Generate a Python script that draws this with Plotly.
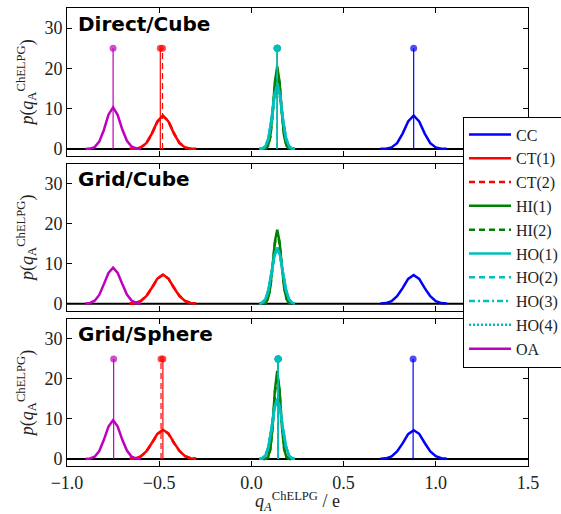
import plotly.graph_objects as go
from plotly.subplots import make_subplots

# ---------------- data ----------------
PANELS = ["Direct/Cube", "Grid/Cube", "Grid/Sphere"]
NAMES = ["CC", "CT(1)", "CT(2)", "HI(1)", "HI(2)", "HO(1)", "HO(2)", "HO(3)", "HO(4)", "OA"]
GROUP = ["CC", "CT", "CT", "HI", "HI", "HO", "HO", "HO", "HO", "OA"]
COLORS = ["#0000ff", "#ff0000", "#ff0000", "#008000", "#008000",
          "#00bfbf", "#00bfbf", "#00bfbf", "#00bfbf", "#bf00bf"]
DASHES = ["solid", "solid", "6px,4px", "solid", "6px,4px",
          "solid", "6px,4px", "6px,3px,2px,3px", "2px,2px", "solid"]

# x grids (charge / e)
OA_X = [-0.90, -0.875, -0.85, -0.825, -0.80, -0.775, -0.75, -0.725, -0.70, -0.675, -0.65, -0.625, -0.60]
CT_X = [-0.66, -0.63, -0.60, -0.57, -0.54, -0.51, -0.48, -0.45, -0.42, -0.39, -0.36, -0.33, -0.30]
HI_X = [0.065, 0.0775, 0.09, 0.1025, 0.115, 0.1275, 0.14, 0.1525, 0.165, 0.1775, 0.19, 0.2025, 0.215]
HO_X = [0.044, 0.06, 0.076, 0.092, 0.108, 0.124, 0.14, 0.156, 0.172, 0.188, 0.204, 0.22, 0.236]
CC_X = [0.70, 0.73, 0.76, 0.79, 0.82, 0.85, 0.88, 0.91, 0.94, 0.97, 1.00, 1.03, 1.06]

# Direct/Cube densities
DC_CC = [0.01, 0.06, 0.37, 1.43, 3.8, 6.8, 8.3, 6.8, 3.8, 1.43, 0.37, 0.06, 0.01]
DC_CT1 = [0.01, 0.06, 0.37, 1.43, 3.8, 6.8, 8.3, 6.8, 3.8, 1.43, 0.37, 0.06, 0.01]
DC_CT2 = [0.01, 0.05, 0.34, 1.35, 3.7, 6.7, 8.2, 6.9, 3.9, 1.5, 0.4, 0.07, 0.01]
DC_HI1 = [0.02, 0.13, 0.8, 3.2, 9.0, 16.7, 20.5, 16.7, 9.0, 3.2, 0.8, 0.13, 0.02]
DC_HI2 = [0.02, 0.12, 0.7, 2.9, 8.4, 15.6, 19.5, 16.3, 9.1, 3.4, 0.9, 0.15, 0.02]
DC_HO1 = [0.01, 0.1, 0.64, 2.5, 7.0, 13.0, 16.0, 13.0, 7.0, 2.5, 0.64, 0.1, 0.01]
DC_HO2 = [0.01, 0.1, 0.62, 2.4, 6.8, 12.7, 15.6, 12.8, 6.9, 2.5, 0.65, 0.1, 0.01]
DC_HO3 = [0.01, 0.1, 0.66, 2.6, 7.1, 13.2, 16.3, 13.2, 7.1, 2.6, 0.66, 0.1, 0.01]
DC_HO4 = [0.01, 0.1, 0.6, 2.4, 6.7, 12.5, 15.3, 12.5, 6.8, 2.5, 0.62, 0.1, 0.01]
DC_OA = [0.0, 0.08, 0.45, 1.8, 4.7, 8.5, 10.3, 8.4, 4.8, 2.0, 0.6, 0.1, 0.0]

# Grid/Cube densities
GC_CC = [0.04, 0.17, 0.67, 1.9, 3.9, 6.2, 7.2, 6.2, 3.9, 1.9, 0.67, 0.17, 0.04]
GC_CT1 = [0.04, 0.18, 0.68, 1.9, 4.0, 6.3, 7.3, 6.3, 4.0, 1.9, 0.68, 0.18, 0.04]
GC_CT2 = [0.04, 0.17, 0.66, 1.9, 3.9, 6.2, 7.2, 6.3, 4.0, 2.0, 0.7, 0.19, 0.04]
GC_HI1 = [0.04, 0.28, 1.28, 4.1, 9.5, 15.6, 18.5, 15.6, 9.5, 4.1, 1.28, 0.28, 0.04]
GC_HI2 = [0.04, 0.27, 1.2, 3.9, 9.1, 15.0, 17.8, 15.1, 9.3, 4.0, 1.25, 0.28, 0.04]
GC_HO1 = [0.06, 0.28, 1.13, 3.4, 7.5, 12.0, 14.0, 12.0, 7.5, 3.4, 1.13, 0.28, 0.06]
GC_HO2 = [0.06, 0.27, 1.1, 3.3, 7.3, 11.8, 13.8, 11.9, 7.4, 3.4, 1.12, 0.28, 0.06]
GC_HO3 = [0.06, 0.28, 1.14, 3.4, 7.6, 12.1, 14.1, 12.0, 7.5, 3.4, 1.12, 0.27, 0.06]
GC_HO4 = [0.06, 0.27, 1.1, 3.3, 7.4, 11.9, 13.9, 11.9, 7.4, 3.3, 1.1, 0.27, 0.06]
GC_OA = [0.04, 0.19, 0.76, 2.2, 4.9, 7.7, 9.0, 7.7, 4.9, 2.3, 0.8, 0.2, 0.04]

# Grid/Sphere densities
GS_CC = [0.04, 0.17, 0.66, 1.9, 3.9, 6.2, 7.2, 6.3, 4.0, 1.9, 0.7, 0.18, 0.04]
GS_CT1 = [0.04, 0.17, 0.66, 1.9, 4.0, 6.3, 7.3, 6.4, 4.1, 2.0, 0.7, 0.19, 0.04]
GS_CT2 = [0.04, 0.17, 0.65, 1.9, 3.9, 6.2, 7.2, 6.3, 4.0, 2.0, 0.7, 0.19, 0.04]
GS_HI1 = [0.0, 0.05, 0.46, 2.5, 8.4, 17.3, 22.0, 17.3, 8.4, 2.5, 0.46, 0.05, 0.0]
GS_HI2 = [0.0, 0.05, 0.42, 2.3, 7.9, 16.4, 21.0, 17.0, 8.6, 2.7, 0.5, 0.06, 0.0]
GS_HO1 = [0.03, 0.18, 0.84, 3.0, 7.3, 12.5, 15.0, 12.5, 7.3, 3.0, 0.84, 0.18, 0.03]
GS_HO2 = [0.03, 0.17, 0.82, 2.9, 7.1, 12.3, 14.8, 12.4, 7.2, 3.0, 0.85, 0.18, 0.03]
GS_HO3 = [0.03, 0.18, 0.85, 3.0, 7.4, 12.6, 15.1, 12.5, 7.3, 3.0, 0.83, 0.18, 0.03]
GS_HO4 = [0.03, 0.17, 0.83, 2.9, 7.2, 12.4, 14.9, 12.4, 7.2, 2.9, 0.83, 0.17, 0.03]
GS_OA = [0.02, 0.13, 0.57, 2.0, 4.8, 8.1, 9.7, 8.1, 4.8, 2.1, 0.6, 0.14, 0.02]

# reference charges (stems), in NAMES order; None = no stems in that panel
DC_STEMS = [0.88, -0.494, -0.482, 0.14, 0.14, 0.14, 0.14, 0.14, 0.14, -0.75]
GC_STEMS = None
GS_STEMS = [0.877, -0.48, -0.49, 0.145, 0.145, 0.145, 0.145, 0.145, 0.145, -0.747]
STEM_HEIGHT = 25

X_TICKS = [-1.0, -0.5, 0.0, 0.5, 1.0, 1.5]
Y_TICKS = [0, 10, 20, 30]
X_RANGE = [-1.0, 1.5]
Y_RANGE = [-1.75, 35]

# ---------------- build ----------------
GRIDS = {"OA": OA_X, "CT": CT_X, "HI": HI_X, "HO": HO_X, "CC": CC_X}
PANEL_CURVES = [
    [DC_CC, DC_CT1, DC_CT2, DC_HI1, DC_HI2, DC_HO1, DC_HO2, DC_HO3, DC_HO4, DC_OA],
    [GC_CC, GC_CT1, GC_CT2, GC_HI1, GC_HI2, GC_HO1, GC_HO2, GC_HO3, GC_HO4, GC_OA],
    [GS_CC, GS_CT1, GS_CT2, GS_HI1, GS_HI2, GS_HO1, GS_HO2, GS_HO3, GS_HO4, GS_OA],
]
PANEL_STEMS = [DC_STEMS, GC_STEMS, GS_STEMS]

fig = make_subplots(rows=3, cols=1, shared_xaxes=False)

SERIF = "Liberation Serif"

for p in range(3):
    row = p + 1
    for i, name in enumerate(NAMES):
        fig.add_trace(go.Scatter(
            x=GRIDS[GROUP[i]], y=PANEL_CURVES[p][i], mode="lines", name=name,
            legendgroup=name, showlegend=(p == 0),
            line=dict(color=COLORS[i], width=2.5, dash=DASHES[i]),
        ), row=row, col=1)
    stems = PANEL_STEMS[p]
    if stems is not None:
        for i, name in enumerate(NAMES):
            fig.add_trace(go.Scatter(
                x=[stems[i], stems[i]], y=[0, STEM_HEIGHT], mode="lines+markers",
                legendgroup=name, showlegend=False,
                line=dict(color=COLORS[i], width=1.2, dash=DASHES[i]),
                marker=dict(color=COLORS[i], size=[0, 7], line=dict(width=0)),
            ), row=row, col=1)

# domains in paper fraction (plot area 460 px high)
DOMAINS = [[0.677, 1.0], [0.339, 0.660], [0.0, 0.321]]
annots = []
shapes = []
for p in range(3):
    row = p + 1
    ax = "" if row == 1 else str(row)
    fig.update_yaxes(
        domain=DOMAINS[p], range=Y_RANGE, tickvals=Y_TICKS,
        ticks="inside", ticklen=5, tickwidth=1, tickcolor="black",
        showline=True, linecolor="black", linewidth=1, mirror="ticks",
        showgrid=False, zeroline=False,
        tickfont=dict(family=SERIF, size=18, color="#222"),
        title=dict(text="<i>p</i>(<i>q</i><sub>A</sub><sup>ChELPG</sup>)",
                   font=dict(family=SERIF, size=18, color="#222"), standoff=6),
        row=row, col=1)
    fig.update_xaxes(
        range=X_RANGE, tickvals=X_TICKS, tickformat=".1f",
        ticks="inside", ticklen=5, tickwidth=1, tickcolor="black",
        showline=True, linecolor="black", linewidth=1, mirror="ticks",
        showgrid=False, zeroline=False, showticklabels=(row == 3),
        tickfont=dict(family=SERIF, size=18, color="#222"),
        row=row, col=1)
    annots.append(dict(
        text="<b>" + PANELS[p] + "</b>", xref="x" + ax + " domain", yref="y" + ax + " domain",
        x=0.02, y=0.895, xanchor="left", yanchor="middle", showarrow=False,
        font=dict(family="DejaVu Sans", size=20, color="black")))
    shapes.append(dict(
        type="line", xref="x" + ax + " domain", x0=0, x1=1, yref="y" + ax, y0=0, y1=0,
        line=dict(color="black", width=2), layer="below"))

fig.update_xaxes(
    title=dict(text="<i>q</i><sub><i>A</i></sub><sup>ChELPG</sup> / e",
               font=dict(family=SERIF, size=18, color="#222"), standoff=2),
    row=3, col=1)

fig.update_layout(
    width=600, height=514,
    margin=dict(l=67, r=72, t=7, b=47),
    paper_bgcolor="white", plot_bgcolor="white",
    annotations=annots, shapes=shapes,
    showlegend=True,
    legend=dict(x=0.859, y=0.763, xanchor="left", yanchor="top",
                bgcolor="white", bordercolor="black", borderwidth=1,
                font=dict(family=SERIF, size=16, color="#222"),
                itemwidth=42, tracegroupgap=0),
)

fig.write_html(
    "out.html",
    config={"displayModeBar": False},
    post_script="document.body.style.margin='0';"
                "document.body.style.overflow='hidden';"
                "document.documentElement.style.overflow='hidden';",
)
